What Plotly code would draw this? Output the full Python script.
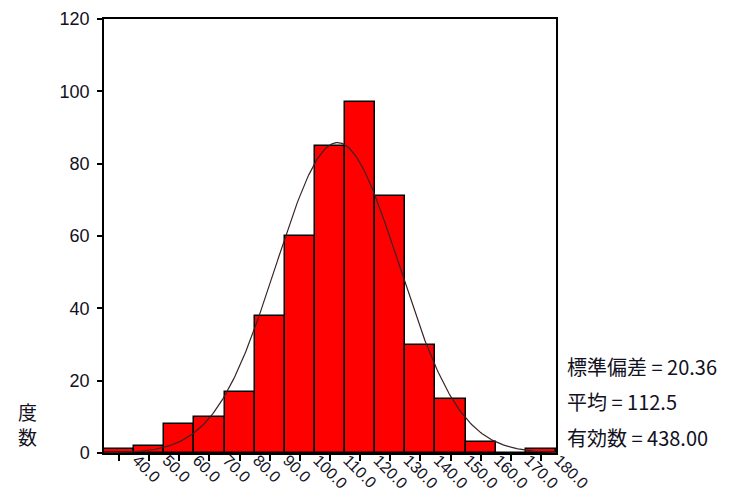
import numpy as np
import plotly.graph_objects as go

# Histogram data (bin midpoints and counts)
bin_centers = [40, 50, 60, 70, 80, 90, 100, 110, 120, 130, 140, 150, 160, 170, 180]
counts = [1, 2, 8, 10, 17, 38, 60, 85, 97, 71, 30, 15, 3, 0, 1]
tick_labels = ["40.0", "50.0", "60.0", "70.0", "80.0", "90.0", "100.0", "110.0",
               "120.0", "130.0", "140.0", "150.0", "160.0", "170.0", "180.0"]

# Summary statistics printed on the chart
SD = 20.36
MEAN = 112.5
N = 438
BIN_WIDTH = 10
stats_lines = ["標準偏差 = 20.36", "平均 = 112.5", "有効数 = 438.00"]
y_title = "度<br>数"

# Fitted normal curve defined by the printed statistics
xc = np.linspace(35, 185, 301)
yc = N * BIN_WIDTH / (SD * np.sqrt(2 * np.pi)) * np.exp(-0.5 * ((xc - MEAN) / SD) ** 2)

fig = go.Figure()
fig.add_trace(go.Bar(
    x=bin_centers, y=counts, width=BIN_WIDTH,
    marker=dict(color="#ff0000", line=dict(color="#000000", width=1.5)),
    showlegend=False, hoverinfo="x+y",
))
fig.add_trace(go.Scatter(
    x=xc, y=yc, mode="lines",
    line=dict(color="#3a2424", width=1.2),
    showlegend=False, hoverinfo="skip",
))

font_num = "Liberation Sans, Arial, sans-serif"
font_cjk = "Noto Sans CJK JP, Liberation Sans, sans-serif"

L, R, T, B = 104, 173, 19, 39
W, H = 729, 492
pw, ph = W - L - R, H - T - B

fig.update_layout(
    width=W, height=H,
    margin=dict(l=L, r=R, t=T, b=B, autoexpand=False),
    paper_bgcolor="white", plot_bgcolor="white",
    bargap=0,
    xaxis=dict(
        range=[35, 185], tickmode="array", tickvals=bin_centers, ticktext=tick_labels,
        tickangle=45, ticks="outside", ticklen=6, tickwidth=2, tickcolor="black",
        showline=True, linecolor="black", linewidth=1.5, mirror=True,
        showgrid=False, zeroline=False, automargin=False,
        tickfont=dict(family=font_num, size=16, color="#111122"),
        ticklabelshift=18, ticklabelstandoff=-16,
    ),
    yaxis=dict(
        range=[0, 120], tickvals=[0, 20, 40, 60, 80, 100, 120],
        ticks="outside", ticklen=5, tickwidth=2, tickcolor="black",
        showline=True, linecolor="black", linewidth=1.5, mirror=True,
        showgrid=False, zeroline=False, automargin=False,
        tickfont=dict(family=font_num, size=18, color="#111122"),
        ticklabelstandoff=4,
    ),
)

annotations = [dict(
    text=y_title, x=(27 - L) / pw, y=(H - B - 424) / ph, xref="paper", yref="paper",
    xanchor="center", yanchor="middle", showarrow=False,
    font=dict(family=font_cjk, size=19, color="#111122"),
)]
stat_y = [366, 401, 437]
for txt, py in zip(stats_lines, stat_y):
    annotations.append(dict(
        text=txt, x=(565 - L) / pw, y=(H - B - py) / ph, xref="paper", yref="paper",
        xanchor="left", yanchor="middle", showarrow=False,
        font=dict(family=font_cjk, size=20, color="#111122"),
    ))
fig.update_layout(annotations=annotations)

fig.write_html(
    "out.html",
    config={"displayModeBar": False},
    post_script="document.body.style.margin='0';document.body.style.overflow='hidden';",
)
